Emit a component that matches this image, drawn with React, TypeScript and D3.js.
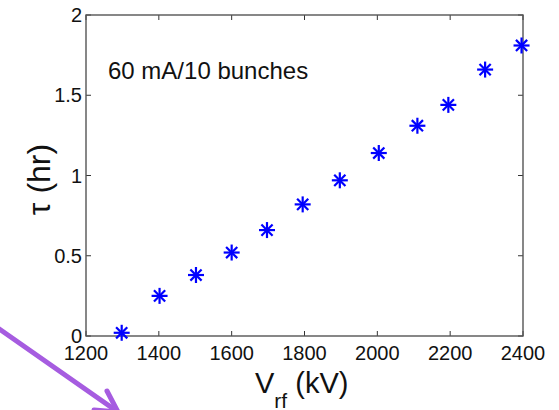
import React, { useRef, useEffect } from "react";
import * as d3 from "d3";

// data
const vrf = [1298, 1402, 1502, 1600, 1697, 1795, 1897, 2004, 2110, 2195, 2296, 2396];
const tau = [0.02, 0.25, 0.38, 0.52, 0.66, 0.82, 0.97, 1.14, 1.31, 1.44, 1.66, 1.81];
const xTicks = [1200, 1400, 1600, 1800, 2000, 2200, 2400];
const yTicks = [0, 0.5, 1, 1.5, 2];
const note = "60 mA/10 bunches";

const W = 559;
const H = 410;
const margin = { left: 86, right: 36, top: 15, bottom: 74 };
const FONT = "'Liberation Sans', Arial, sans-serif";

function App() {
  let svgRef = useRef<SVGSVGElement | null>(null);

  const draw = () => {
    const svg = d3.select(svgRef.current);
    svg.selectAll("*").remove();

    const x = d3.scaleLinear().domain([1200, 2400]).range([margin.left, W - margin.right]);
    const y = d3.scaleLinear().domain([0, 2]).range([H - margin.bottom, margin.top]);

    svg.append("rect").attr("width", W).attr("height", H).attr("fill", "white");

    // purple arrow in the corner (part of the slide)
    const arrow = svg.append("g").attr("stroke", "#a65ce0").attr("stroke-width", 5)
      .attr("stroke-linecap", "round").attr("fill", "none");
    arrow.append("line").attr("x1", -5).attr("y1", 326).attr("x2", 118).attr("y2", 412);
    arrow.append("polyline").attr("points", "107,391 118,412 94,410");

    // inward ticks on all sides
    const tl = 5;
    const g = svg.append("g").attr("stroke", "#333").attr("stroke-width", 1);
    xTicks.forEach(t => {
      g.append("line").attr("x1", x(t)).attr("x2", x(t)).attr("y1", y(0)).attr("y2", y(0) - tl);
      g.append("line").attr("x1", x(t)).attr("x2", x(t)).attr("y1", y(2)).attr("y2", y(2) + tl);
    });
    yTicks.forEach(t => {
      g.append("line").attr("x1", x(1200)).attr("x2", x(1200) + tl).attr("y1", y(t)).attr("y2", y(t));
      g.append("line").attr("x1", x(2400)).attr("x2", x(2400) - tl).attr("y1", y(t)).attr("y2", y(t));
    });

    svg.append("rect")
      .attr("x", x(1200)).attr("y", y(2))
      .attr("width", x(2400) - x(1200)).attr("height", y(0) - y(2))
      .attr("fill", "none").attr("stroke", "#555").attr("stroke-width", 1.4);

    // tick labels
    svg.append("g").selectAll("text").data(xTicks).join("text")
      .attr("x", d => x(d)).attr("y", y(0) + 24)
      .attr("text-anchor", "middle").attr("font-family", FONT).attr("font-size", 20)
      .attr("fill", "#111").text(d => d);
    svg.append("g").selectAll("text").data(yTicks).join("text")
      .attr("x", x(1200) - 4).attr("y", d => y(d)).attr("dy", "0.36em")
      .attr("text-anchor", "end").attr("font-family", FONT).attr("font-size", 20)
      .attr("fill", "#111").text(d => d);

    // axis titles
    const xl = svg.append("text").attr("x", 255).attr("y", 393)
      .attr("font-family", FONT).attr("font-size", 29).attr("fill", "#111");
    xl.append("tspan").text("V");
    xl.append("tspan").attr("font-size", 21).attr("dy", 15).text("rf");
    xl.append("tspan").attr("dy", -15).text(" (kV)");

    svg.append("text")
      .attr("transform", "translate(50," + (y(1) + 4) + ") rotate(-90)")
      .attr("text-anchor", "middle").attr("font-family", FONT).attr("font-size", 32)
      .attr("fill", "#111").text("τ (hr)");

    svg.append("text").attr("x", 108).attr("y", 79)
      .attr("font-family", FONT).attr("font-size", 24).attr("fill", "#111").text(note);

    // asterisk markers
    const r = 8;
    const d = r * 0.7;
    const pts = vrf.map((v, i) => [x(v), y(tau[i])]);
    const m = svg.append("g").attr("stroke", "#0000ff").attr("stroke-width", 2.2);
    pts.forEach(([px, py]) => {
      const s = m.append("g").attr("transform", "translate(" + px + "," + py + ")");
      s.append("line").attr("x1", -r).attr("x2", r).attr("y1", 0).attr("y2", 0);
      s.append("line").attr("x1", 0).attr("x2", 0).attr("y1", -r).attr("y2", r);
      s.append("line").attr("x1", -d).attr("x2", d).attr("y1", -d).attr("y2", d);
      s.append("line").attr("x1", -d).attr("x2", d).attr("y1", d).attr("y2", -d);
    });
  };

  useEffect(() => {
    draw();
  });

  return (
    <svg ref={svgRef} width={W} height={H} style={{ position: "absolute", left: 0, top: 0 }}></svg>
  );
}

export default App;
